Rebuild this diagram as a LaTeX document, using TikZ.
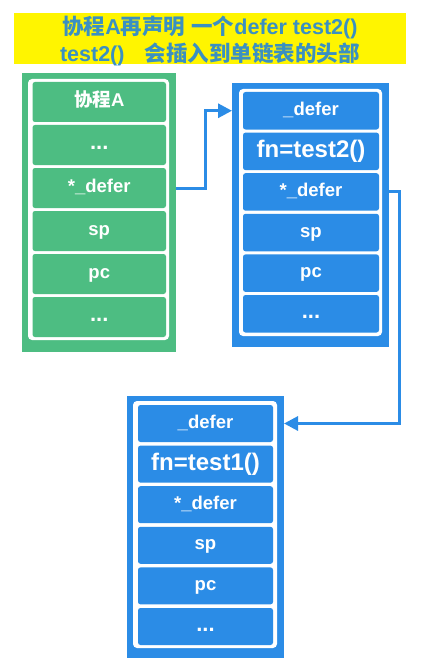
\documentclass[tikz,border=0pt]{standalone}
\usepackage{fontspec}
\setmainfont{Liberation Sans}
\newfontfamily\cjk{Noto Sans CJK SC Bold}
\usetikzlibrary{arrows.meta,calc}
\definecolor{gboxc}{HTML}{4DBD82}
\definecolor{bboxc}{HTML}{2B8CE6}
\definecolor{titlec}{HTML}{3A90C2}
\definecolor{bandc}{HTML}{FFF500}
\newcommand\dotsrow{{\fontsize{22}{22}\selectfont ...}}
\tikzset{
  outerbox/.style={fill=#1, draw=none, inner sep=0pt, outer sep=0pt, anchor=north west},
  framebox/.style={fill=white, draw=none, rounded corners=4pt, inner sep=0pt, outer sep=0pt},
  cell/.style={fill=#1, draw=none, rounded corners=2.5pt, inner sep=0pt, outer sep=0pt,
    text=white, font=\bfseries\fontsize{18.5}{20}\selectfont, text height=13pt, text depth=4pt},
  bigcell/.style={cell=#1, font=\bfseries\fontsize{24}{26}\selectfont, text height=17pt, text depth=5pt},
  conn/.style={draw=bboxc, line width=3pt, -{Triangle[length=14pt,width=14pt]}},
}
\begin{document}
\begin{tikzpicture}[x=1pt,y=-1pt]
\useasboundingbox[fill=white] (0,0) rectangle (421,666);
% title
\node[fill=bandc, minimum width=392pt, minimum height=51pt, inner sep=0pt] (band) at (210,38.5) {};
\node[text=titlec, align=center, font=\bfseries\fontsize{21.5}{27.5}\selectfont] (title) at (210,41)
  {{\cjk 协程}A{\cjk 再声明} {\cjk 一个}defer test2()\\test2()\hspace{0.95em}{\cjk 会插入到单链表的头部}};
% green box
\node[outerbox=gboxc, minimum width=154pt, minimum height=279pt] (gbox) at (22,73) {};
\path[framebox] (28,79) rectangle (169,340);
\foreach \n/\y/\t in {g1/102/{{\cjk 协程}A}, g2/145/{\dotsrow}, g3/188/{*\_defer}, g4/231/{sp}, g5/274/{pc}, g6/317/{\dotsrow}}{
  \node[cell=gboxc, minimum width=133.5pt, minimum height=40pt] (\n) at (99.25,\y) {\t};
}
% blue box 1
\node[outerbox=bboxc, minimum width=157pt, minimum height=264pt] (b1box) at (232,83) {};
\path[framebox] (239,89) rectangle (382,336);
\node[cell=bboxc, minimum width=136pt, minimum height=37.5pt] (b1a) at (311,110.75) {\_defer};
\node[bigcell=bboxc, minimum width=136pt, minimum height=37.5pt] (b1b) at (311,151.35) {fn=test2()};
\node[cell=bboxc, minimum width=136pt, minimum height=37.5pt] (b1c) at (311,191.95) {*\_defer};
\node[cell=bboxc, minimum width=136pt, minimum height=37.5pt] (b1d) at (311,232.55) {sp};
\node[cell=bboxc, minimum width=136pt, minimum height=37.5pt] (b1e) at (311,273.15) {pc};
\node[cell=bboxc, minimum width=136pt, minimum height=37.5pt] (b1f) at (311,313.75) {\dotsrow};
% blue box 2
\node[outerbox=bboxc, minimum width=157pt, minimum height=262pt] (b2box) at (127,396) {};
\path[framebox] (133,401) rectangle (277,648);
\node[cell=bboxc, minimum width=135pt, minimum height=37pt] (b2a) at (205.5,423.5) {\_defer};
\node[bigcell=bboxc, minimum width=135pt, minimum height=37pt] (b2b) at (205.5,464.1) {fn=test1()};
\node[cell=bboxc, minimum width=135pt, minimum height=37pt] (b2c) at (205.5,504.7) {*\_defer};
\node[cell=bboxc, minimum width=135pt, minimum height=37pt] (b2d) at (205.5,545.3) {sp};
\node[cell=bboxc, minimum width=135pt, minimum height=37pt] (b2e) at (205.5,585.9) {pc};
\node[cell=bboxc, minimum width=135pt, minimum height=37pt] (b2f) at (205.5,626.5) {\dotsrow};
% connectors
\draw[conn] (gbox.east |- g3) -- ++(29,0) |- (b1box.west |- b1a);
\draw[conn] (b1box.east |- b1c) -- ++(10,0) |- (b2box.east |- b2a);
\end{tikzpicture}
\end{document}
